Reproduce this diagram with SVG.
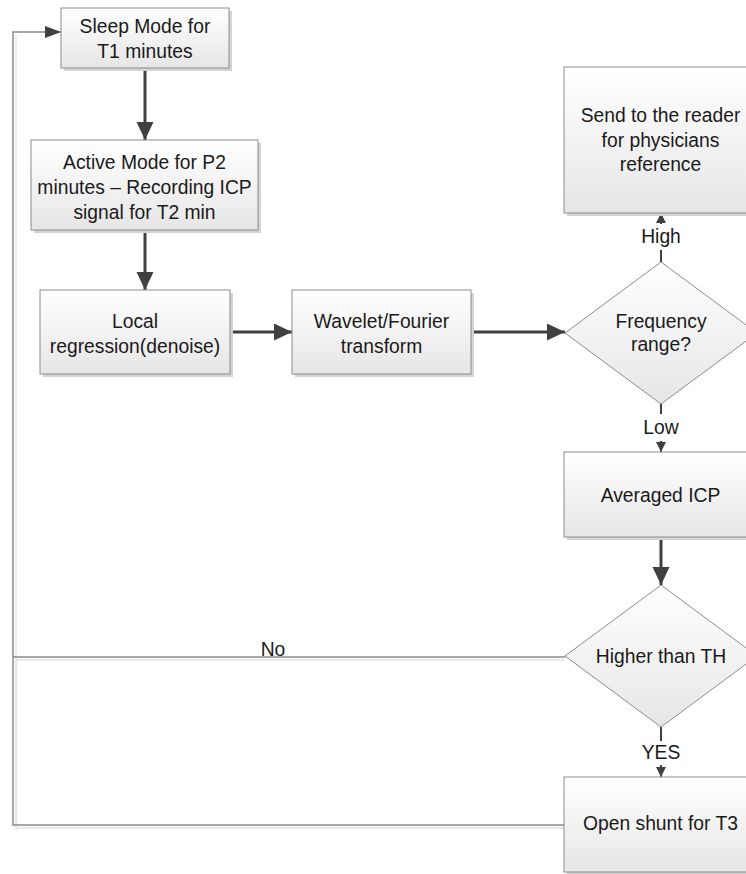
<svg xmlns="http://www.w3.org/2000/svg" width="746" height="874" viewBox="0 0 746 874">
  <defs>
    <linearGradient id="boxFill" x1="0" y1="0" x2="0" y2="1">
      <stop offset="0" stop-color="#ffffff"/>
      <stop offset="1" stop-color="#e6e6e6"/>
    </linearGradient>
    <marker id="headBig" markerUnits="userSpaceOnUse" markerWidth="18" markerHeight="18" refX="18" refY="8.5" orient="auto">
      <path d="M0,0 L18,8.5 L0,17 z" fill="#404040"/>
    </marker>
    <marker id="headSmall" markerUnits="userSpaceOnUse" markerWidth="11" markerHeight="11" refX="10" refY="5" orient="auto">
      <path d="M0,0 L10,5 L0,10 z" fill="#404040"/>
    </marker>
    <marker id="headLoop" markerUnits="userSpaceOnUse" markerWidth="17" markerHeight="13" refX="16" refY="6" orient="auto">
      <path d="M0,0 L16,6 L0,12 z" fill="#404040"/>
    </marker>
  </defs>
  <style>
    .box { fill: url(#boxFill); stroke: #8c8c8c; stroke-width: 1; }
    .shadow { fill: #d4d4d4; }
    .label { font-family: "Liberation Sans", Arial, sans-serif; font-size: 19.3px; fill: #1a1a1a; text-anchor: middle; }
    .thick { stroke: #404040; stroke-width: 3; fill: none; }
    .thin { stroke: #404040; stroke-width: 2; fill: none; }
    .loop { stroke: #8a8a8a; stroke-width: 1.5; fill: none; }
    .loopShade { stroke: #e4e4e4; stroke-width: 1.5; fill: none; }
  </style>

  <rect width="746" height="874" fill="#ffffff"/>

  <!-- connectors -->
  <g id="connectors">
    <!-- feedback loop back to sleep mode -->
    <polyline class="loopShade" points="564,660 16,660 16,828 564,828"/>
    <line class="loopShade" x1="16" y1="35" x2="16" y2="828"/>
    <polyline class="loop" points="565,657 13,657"/>
    <polyline class="loop" points="564,825 13,825 13,32 61,32" marker-end="url(#headLoop)"/>

    <line class="thick" x1="145" y1="68" x2="145" y2="140" marker-end="url(#headBig)"/>
    <line class="thick" x1="145" y1="230" x2="145" y2="290" marker-end="url(#headBig)"/>
    <line class="thick" x1="230" y1="332" x2="292" y2="332" marker-end="url(#headBig)"/>
    <line class="thick" x1="471" y1="332" x2="565" y2="332" marker-end="url(#headBig)"/>
    <line class="thick" x1="661" y1="537" x2="661" y2="585" marker-end="url(#headBig)"/>

    <line class="thin" x1="661" y1="262" x2="661" y2="250"/>
    <line class="thin" x1="661" y1="224" x2="661" y2="213" marker-end="url(#headSmall)"/>
    <line class="thin" x1="661" y1="403" x2="661" y2="414"/>
    <line class="thin" x1="661" y1="441" x2="661" y2="452" marker-end="url(#headSmall)"/>
    <line class="thin" x1="661" y1="727" x2="661" y2="741"/>
    <line class="thin" x1="661" y1="765" x2="661" y2="777" marker-end="url(#headSmall)"/>

    <text class="label" x="661" y="243">High</text>
    <text class="label" x="661" y="434">Low</text>
    <text class="label" x="661" y="759">YES</text>
    <text class="label" x="273" y="656">No</text>
  </g>

  <g id="sleep">
    <rect class="shadow" x="64" y="11" width="168" height="60"/>
    <rect class="box" x="61" y="8" width="168" height="60"/>
    <text class="label" x="145" y="33">Sleep Mode for</text>
    <text class="label" x="145" y="58">T1 minutes</text>
  </g>

  <g id="active">
    <rect class="shadow" x="34" y="143" width="227" height="90"/>
    <rect class="box" x="31" y="140" width="227" height="90"/>
    <text class="label" x="144.5" y="169">Active Mode for P2</text>
    <text class="label" x="144.5" y="194">minutes – Recording ICP</text>
    <text class="label" x="144.5" y="219">signal for T2 min</text>
  </g>

  <g id="local">
    <rect class="shadow" x="43" y="293" width="190" height="84"/>
    <rect class="box" x="40" y="290" width="190" height="84"/>
    <text class="label" x="135" y="328">Local</text>
    <text class="label" x="135" y="353">regression(denoise)</text>
  </g>

  <g id="transform">
    <rect class="shadow" x="295" y="293" width="179" height="84"/>
    <rect class="box" x="292" y="290" width="179" height="84"/>
    <text class="label" x="381.5" y="328">Wavelet/Fourier</text>
    <text class="label" x="381.5" y="353">transform</text>
  </g>

  <g id="frequency">
    <polygon class="box" points="661,262 757,333 661,404 565,333"/>
    <text class="label" x="661" y="328">Frequency</text>
    <text class="label" x="661" y="351">range?</text>
  </g>

  <g id="reader">
    <rect class="shadow" x="567" y="70" width="193" height="146"/>
    <rect class="box" x="564" y="67" width="193" height="146"/>
    <text class="label" x="660.5" y="122">Send to the reader</text>
    <text class="label" x="660.5" y="147">for physicians</text>
    <text class="label" x="660.5" y="171">reference</text>
  </g>

  <g id="averaged">
    <rect class="shadow" x="567" y="455" width="193" height="85"/>
    <rect class="box" x="564" y="452" width="193" height="85"/>
    <text class="label" x="660.5" y="502">Averaged ICP</text>
  </g>

  <g id="threshold">
    <polygon class="box" points="661,585 757,656 661,727 565,656"/>
    <text class="label" x="661" y="663">Higher than TH</text>
  </g>

  <g id="shunt">
    <rect class="shadow" x="567" y="780" width="193" height="96"/>
    <rect class="box" x="564" y="777" width="193" height="95"/>
    <text class="label" x="660.5" y="830">Open shunt for T3</text>
  </g>
</svg>
